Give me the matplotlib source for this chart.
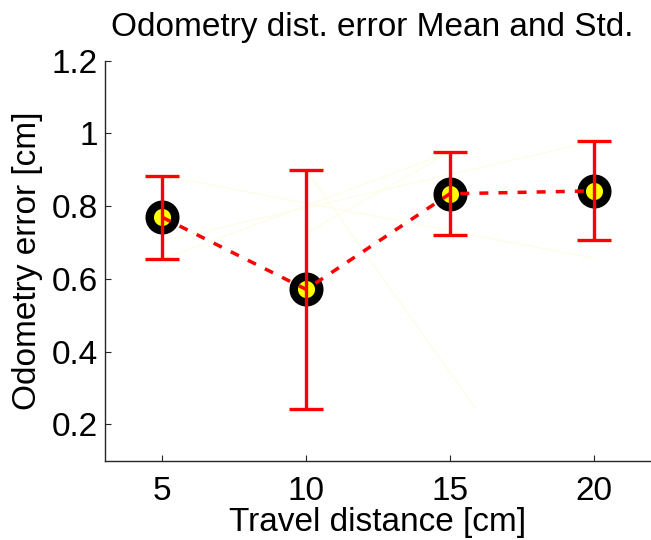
import matplotlib
matplotlib.use("Agg")
import matplotlib.pyplot as plt

plt.rcParams['font.family'] = ['Liberation Sans', 'DejaVu Sans']

# Travel distances and odometry error statistics
distance = [5, 10, 15, 20]
mean_err = [0.769, 0.571, 0.834, 0.842]
std_err = [0.115, 0.328, 0.114, 0.136]

# Faint background segments (start/end points in data units)
faint_x = [[5, 20], [5, 20], [10, 15], [10, 15.9], [5, 15]]
faint_y = [[0.884, 0.657], [0.704, 0.978], [0.726, 0.948], [0.899, 0.243], [0.654, 0.948]]

x_ticks = [5, 10, 15, 20]
y_ticks = [0.2, 0.4, 0.6, 0.8, 1.0, 1.2]
y_ticklabels = ['0.2', '0.4', '0.6', '0.8', '1', '1.2']

FS = 24
W, H = 651, 540
fig = plt.figure(figsize=(W / 100, H / 100), dpi=100)
ax = fig.add_axes([105 / W, (H - 460.7) / H, (W - 105) / W, 400 / H])

for fx, fy in zip(faint_x, faint_y):
    ax.plot(fx, fy, color='#fdfde6', lw=0.9, zorder=1)

ax.plot(distance, mean_err, linestyle='none', marker='o', markersize=18.4,
        markerfacecolor='#ffff00', markeredgecolor='black',
        markeredgewidth=6.1, zorder=2)
ax.errorbar(distance, mean_err, yerr=std_err, fmt='none', ecolor='#ff0000',
            elinewidth=2.4, capsize=12.2, capthick=2.4, zorder=3)
ax.plot(distance, mean_err, color='#ff0000', lw=2.5, dashes=(2.6, 2.9),
        zorder=4)

ax.set_xlim(3, 22)
ax.set_ylim(0.1, 1.2)
ax.set_xticks(x_ticks)
ax.set_xticklabels([str(t) for t in x_ticks])
ax.set_yticks(y_ticks)
ax.set_yticklabels(y_ticklabels)

for side in ('top', 'right'):
    ax.spines[side].set_visible(False)
for side in ('left', 'bottom'):
    ax.spines[side].set_linewidth(1.0)
    ax.spines[side].set_color('#262626')

ax.tick_params(direction='in', length=4.5, width=0.8, color='#262626',
               labelsize=FS, pad=5)
ax.tick_params(axis='x', pad=11)

ax.set_xlabel('Travel distance [cm]', fontsize=FS, labelpad=0)
ax.set_ylabel('Odometry error [cm]', fontsize=FS, labelpad=6)
ax.set_title('Odometry dist. error Mean and Std.', fontsize=FS, pad=18, x=0.49)

fig.savefig('out.png', dpi=100)
